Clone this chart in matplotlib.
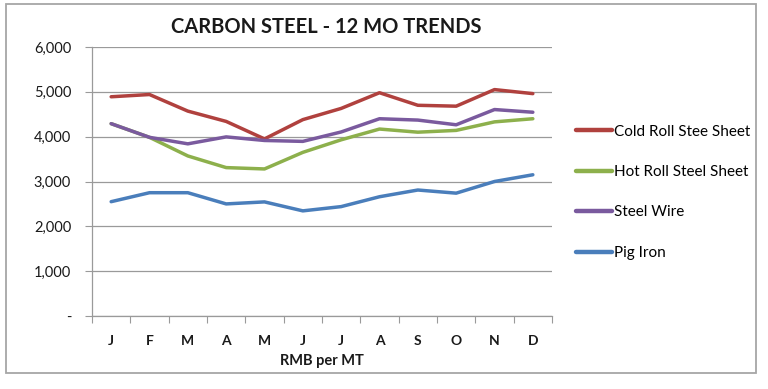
import numpy as np
import matplotlib
matplotlib.use("Agg")
import matplotlib.pyplot as plt
from matplotlib.ticker import FixedLocator, FuncFormatter

plt.rcParams['font.family'] = ['Lato', 'DejaVu Sans']

# chart data
months = ["J", "F", "M", "A", "M", "J", "J", "A", "S", "O", "N", "D"]
cold_roll = [4890, 4940, 4570, 4340, 3950, 4380, 4630, 4980, 4700, 4680, 5050, 4960]
hot_roll = [4290, 3985, 3570, 3310, 3280, 3650, 3930, 4170, 4100, 4140, 4330, 4400]
steel_wire = [4290, 3985, 3840, 3995, 3915, 3895, 4105, 4400, 4370, 4265, 4605, 4545]
pig_iron = [2550, 2750, 2750, 2500, 2545, 2345, 2440, 2660, 2810, 2740, 3000, 3150]

series_names = ["Cold Roll Stee Sheet", "Hot Roll Steel Sheet", "Steel Wire", "Pig Iron"]
series_colors = ["#B0413E", "#8DB04C", "#7A5A9E", "#4A7EBB"]
y_ticks = [0, 1000, 2000, 3000, 4000, 5000, 6000]

W, H = 768, 389
fig = plt.figure(figsize=(W / 100, H / 100), dpi=100)
# plot area in pixels: x 92..552, y 47..316
ax = fig.add_axes([92 / W, 1 - 316 / H, (552 - 92) / W, (316 - 47) / H])

x = np.arange(len(months))
for vals, name, col in zip([cold_roll, hot_roll, steel_wire, pig_iron], series_names, series_colors):
    ax.plot(x, vals, color=col, lw=2.5, label=name, solid_capstyle='round', solid_joinstyle='round')

ax.set_xlim(-0.5, len(months) - 0.5)
ax.set_ylim(0, 6000)

# gridlines
ax.yaxis.set_major_locator(FixedLocator(y_ticks))
ax.yaxis.set_major_formatter(FuncFormatter(lambda v, p: "-" if v == 0 else f"{int(v):,}"))
ax.grid(axis='y', color='#9A9A9A', lw=0.9)
ax.set_axisbelow(True)

# category axis: tick marks between months, labels centred
ax.xaxis.set_major_locator(FixedLocator(np.arange(-0.5, len(months), 1.0)))
ax.set_xticklabels([])
ax.set_xticks(x, months, minor=True)
ax.tick_params(axis='x', which='major', length=5, color='#9A9A9A', direction='out')
ax.tick_params(axis='x', which='minor', length=0, pad=14, labelsize=10, labelcolor='#1a1a1a')
for t in ax.get_xticklabels(minor=True):
    t.set_fontweight('bold')
ax.tick_params(axis='y', length=5, color='#9A9A9A', labelsize=10.5, labelcolor='#1a1a1a', pad=10)

for s in ['top', 'right']:
    ax.spines[s].set_visible(False)
for s in ['left', 'bottom']:
    ax.spines[s].set_color('#9A9A9A')
    ax.spines[s].set_linewidth(0.9)

ax.set_xlabel("RMB per MT", fontsize=10.5, fontweight='bold', color='#1a1a1a', labelpad=5)

fig.text(326 / W, 1 - 27 / H, "CARBON STEEL - 12 MO TRENDS", ha='center', va='center',
         fontsize=14.5, fontweight='bold', color='#1a1a1a')

leg = ax.legend(loc='center left', bbox_to_anchor=(1.052, 0.46), frameon=False, fontsize=11,
                handlelength=2.35, handletextpad=0.15, labelspacing=1.73, borderpad=0,
                borderaxespad=0)
for h in leg.get_lines():
    h.set_linewidth(3.2)

# outer chart border
fig.patches.append(plt.Rectangle((6 / W, 1 - 373 / H), (756 - 6) / W, (373 - 4) / H,
                                 transform=fig.transFigure, fill=False, edgecolor='#A6A6A6', lw=1.3))

fig.savefig("out.png", dpi=100)
